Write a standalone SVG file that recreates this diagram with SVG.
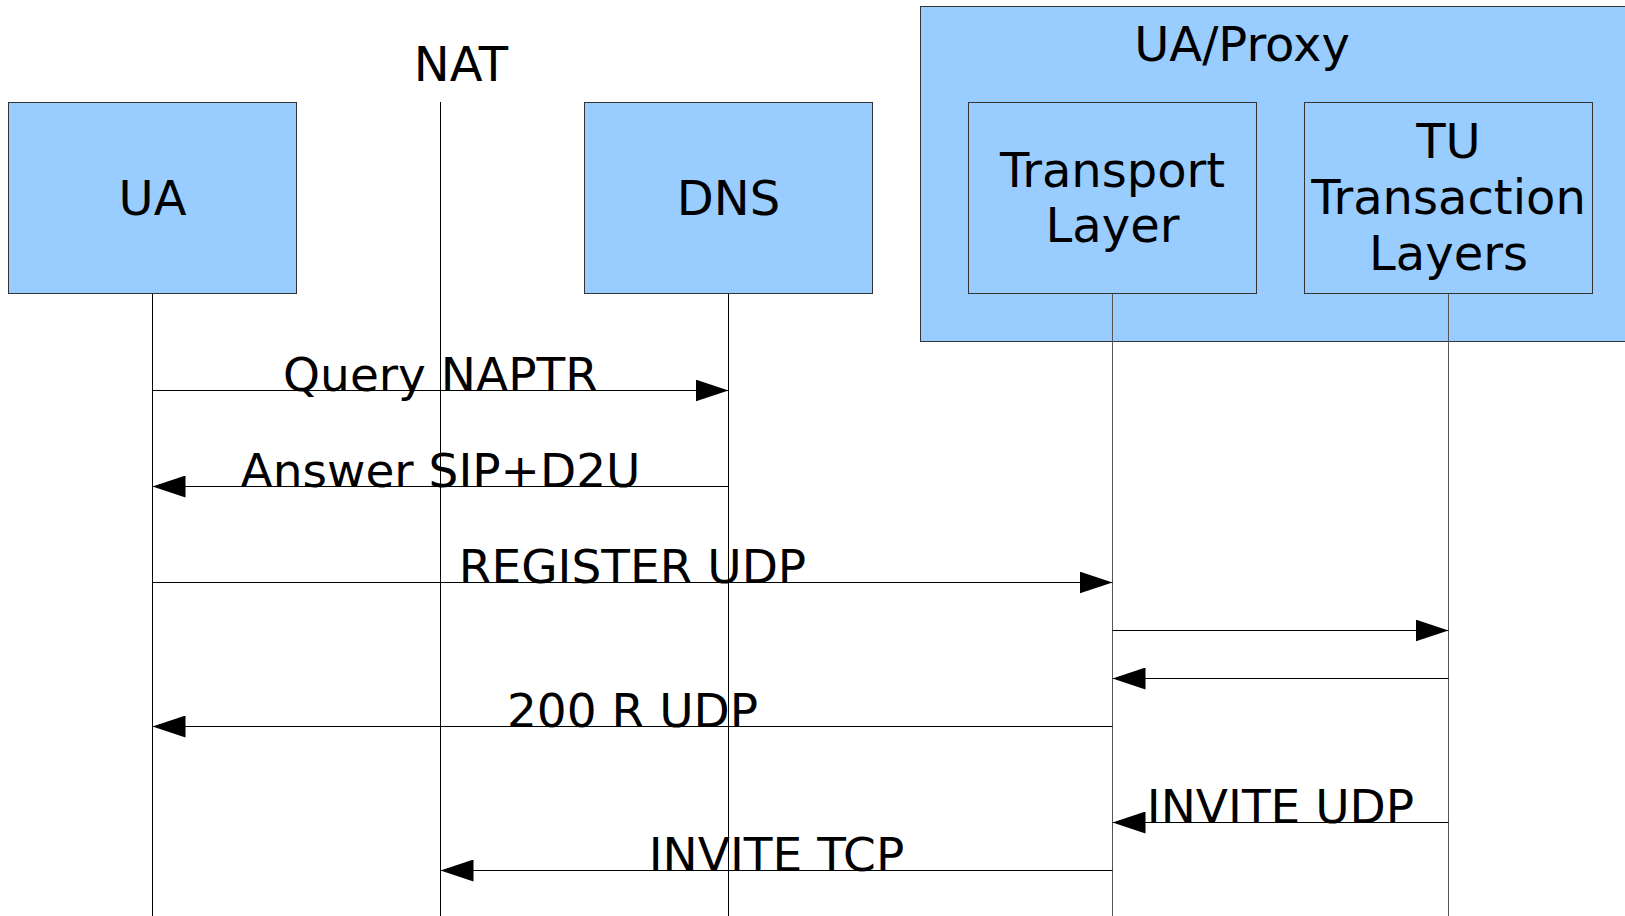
<svg xmlns="http://www.w3.org/2000/svg" width="1625" height="916" viewBox="0 0 1625 916">
  <style>
    .box { fill: #99ccff; stroke: #333333; stroke-width: 1; }
    .label { font-family: "DejaVu Sans", "Liberation Sans", sans-serif; font-size: 48px; fill: #000000; text-anchor: middle; }
    .msg-label { font-size: 47px; }
    .life { stroke: #000000; stroke-width: 1; fill: none; }
    .life-grey { stroke: #555555; stroke-width: 1; fill: none; }
    .msg { stroke: #000000; stroke-width: 1; fill: none; marker-end: url(#arrow); }
  </style>
  <defs>
    <marker id="arrow" markerUnits="userSpaceOnUse" markerWidth="34" markerHeight="22" refX="33" refY="11" orient="auto">
      <path d="M0,0 L33,11 L0,22 Z" fill="#000000"/>
    </marker>
  </defs>

  <rect width="1625" height="916" fill="#ffffff"/>

  <!-- Lifelines -->
  <g id="lifelines">
    <line class="life" x1="152.5" y1="294" x2="152.5" y2="916"/>
    <line class="life" x1="440.5" y1="102" x2="440.5" y2="916"/>
    <line class="life" x1="728.5" y1="294" x2="728.5" y2="916"/>
  </g>

  <!-- UA/Proxy container -->
  <g id="ua-proxy">
    <rect class="box" x="920.5" y="6.5" width="720" height="335"/>
    <text class="label" x="1242" y="61">UA/Proxy</text>
  </g>

  <g id="ua">
    <rect class="box" x="8.5" y="102.5" width="288" height="191"/>
    <text class="label" x="152.5" y="215">UA</text>
  </g>

  <g id="nat">
    <text class="label" x="461" y="81">NAT</text>
  </g>

  <g id="dns">
    <rect class="box" x="584.5" y="102.5" width="288" height="191"/>
    <text class="label" x="728.5" y="215">DNS</text>
  </g>

  <g id="transport-layer">
    <rect class="box" x="968.5" y="102.5" width="288" height="191"/>
    <text class="label" x="1112.5" y="187">Transport</text>
    <text class="label" x="1112.5" y="242">Layer</text>
  </g>

  <g id="tu-transaction">
    <rect class="box" x="1304.5" y="102.5" width="288" height="191"/>
    <text class="label" x="1448.5" y="158">TU</text>
    <text class="label" x="1448.5" y="214">Transaction</text>
    <text class="label" x="1448.5" y="270">Layers</text>
  </g>

  <!-- Lifelines inside the proxy -->
  <g id="proxy-lifelines">
    <line class="life-grey" x1="1112.5" y1="294" x2="1112.5" y2="916"/>
    <line class="life-grey" x1="1448.5" y1="294" x2="1448.5" y2="916"/>
  </g>

  <!-- Messages -->
  <g id="connectors">
    <line class="msg" x1="152.5" y1="390.5" x2="728.5" y2="390.5"/>
    <line class="msg" x1="728.5" y1="486.5" x2="152.5" y2="486.5"/>
    <line class="msg" x1="152.5" y1="582.5" x2="1112.5" y2="582.5"/>
    <line class="msg" x1="1112.5" y1="630.5" x2="1448.5" y2="630.5"/>
    <line class="msg" x1="1448.5" y1="678.5" x2="1112.5" y2="678.5"/>
    <line class="msg" x1="1112.5" y1="726.5" x2="152.5" y2="726.5"/>
    <line class="msg" x1="1448.5" y1="822.5" x2="1112.5" y2="822.5"/>
    <line class="msg" x1="1112.5" y1="870.5" x2="440.5" y2="870.5"/>
  </g>

  <g id="message-labels">
    <text class="label msg-label" x="440.5" y="391">Query NAPTR</text>
    <text class="label msg-label" x="440.5" y="487">Answer SIP+D2U</text>
    <text class="label msg-label" x="632.5" y="583">REGISTER UDP</text>
    <text class="label msg-label" x="632.5" y="727">200 R UDP</text>
    <text class="label msg-label" x="1280.5" y="823">INVITE UDP</text>
    <text class="label msg-label" x="776.5" y="871">INVITE TCP</text>
  </g>
</svg>
